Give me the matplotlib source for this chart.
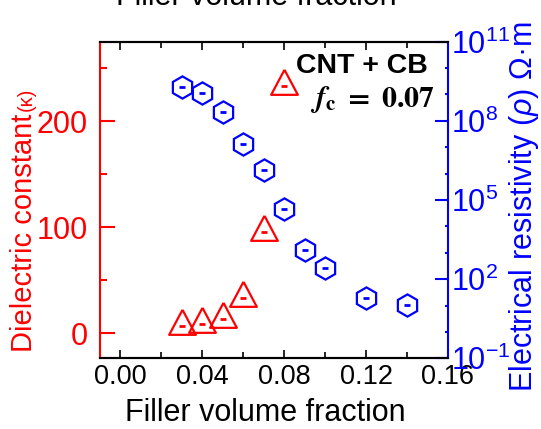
import numpy as np
import matplotlib
matplotlib.use("Agg")
import matplotlib.pyplot as plt
from matplotlib.ticker import MultipleLocator, FixedLocator, FuncFormatter, NullFormatter

plt.rcParams['font.family'] = ['Liberation Sans', 'DejaVu Sans']
plt.rcParams['mathtext.fontset'] = 'custom'
plt.rcParams['mathtext.rm'] = 'Liberation Sans'
plt.rcParams['mathtext.it'] = 'Liberation Sans:italic'
plt.rcParams['mathtext.bf'] = 'Liberation Sans:bold'

# dielectric constant (CNT + CB)
fk = [0.03, 0.04, 0.05, 0.06, 0.07, 0.08]
kappa = [6.9, 8.8, 13.2, 33.0, 95.3, 233.6]

# electrical resistivity
fr = [0.03, 0.04, 0.05, 0.06, 0.07, 0.08, 0.09, 0.10, 0.12, 0.14]
rho = [1.9e9, 1.1e9, 2.2e8, 1.3e7, 1.4e6, 4.7e4, 1.26e3, 2.6e2, 18.6, 10.2]

RED = (1, 0, 0)
BLUE = (0, 0, 1)

W, H = 541, 429
fig = plt.figure(figsize=(W / 100, H / 100), dpi=100)
x0, x1, y0, y1 = 100, 448, 41.7, 358.3
ax = fig.add_axes([x0 / W, 1 - y1 / H, (x1 - x0) / W, (y1 - y0) / H])
ax2 = ax.twinx()

# triangle centred on its centroid
tri = [(0, 2), (-1.6, -1), (1.6, -1), (0, 2)]
ax.plot(fk, kappa, ls='none', marker=tri, ms=24, mfc='none', mec=RED, mew=1.6, clip_on=False)
ax.plot(fk, kappa, ls='none', marker='_', ms=4, mec=RED, mew=2)

ax2.plot(fr, rho, ls='none', marker='h', ms=16, mfc='none', mec=BLUE, mew=1.6)
ax2.plot(fr, rho, ls='none', marker='_', ms=4, mec=BLUE, mew=2)

ax.set_xlim(-0.01, 0.16)
ax.set_ylim(-23.6, 275)
ax2.set_yscale('log')
ax2.set_ylim(1e-1, 1e11)

ax.xaxis.set_major_locator(MultipleLocator(0.04))
ax.xaxis.set_minor_locator(MultipleLocator(0.02))
ax.xaxis.set_major_formatter(plt.FormatStrFormatter('%.2f'))
ax.yaxis.set_major_locator(MultipleLocator(100))
ax.yaxis.set_minor_locator(MultipleLocator(50))
ax2.yaxis.set_major_locator(FixedLocator([1e-1, 1e2, 1e5, 1e8, 1e11]))
ax2.yaxis.set_minor_locator(FixedLocator([10.0 ** e for e in range(-1, 12) if (e + 1) % 3]))
ax2.yaxis.set_major_formatter(FuncFormatter(lambda v, p: r'$10^{%d}$' % round(np.log10(v))))
ax2.yaxis.set_minor_formatter(NullFormatter())

ax.tick_params(axis='x', which='major', direction='in', top=True, length=6, width=1.2,
               labelsize=19.5, pad=4, colors='black')
ax.tick_params(axis='x', which='minor', direction='in', top=True, length=4, width=1.2)
ax.tick_params(axis='y', which='major', direction='in', length=11, width=1.5,
               labelsize=22, pad=9, colors=RED)
ax.tick_params(axis='y', which='minor', direction='in', length=5, width=1.5, colors=RED)
ax2.tick_params(axis='y', which='major', direction='in', length=9.5, width=1.5,
                labelsize=22, pad=2.5, colors=BLUE)
ax2.tick_params(axis='y', which='minor', direction='in', length=2, width=1.5, colors=BLUE)

for a in (ax, ax2):
    for s in a.spines.values():
        s.set_linewidth(1.5)
ax.spines['left'].set_color(RED)
ax.spines['right'].set_visible(False)
ax2.spines['left'].set_visible(False)
ax2.spines['right'].set_color(BLUE)

# labels
fig.text(256 / W, 1 - 5 / H, 'Filler volume fraction', fontsize=22, ha='center', va='baseline')
fig.text(265 / W, 1 - 420.7 / H, 'Filler volume fraction', fontsize=22, ha='center', va='baseline')
fig.text(32 / W, 1 - 352 / H, 'Dielectric constant', fontsize=21, color=RED,
         rotation=90, rotation_mode='anchor', ha='left', va='baseline')
fig.text(32 / W, 1 - 111 / H, '(κ)', fontsize=14.5, color=RED,
         rotation=90, rotation_mode='anchor', ha='left', va='baseline')
fig.text(532 / W, 1 - 392 / H, r'Electrical resistivity ($\it{\rho}$) Ω·m', fontsize=22, color=BLUE,
         rotation=90, rotation_mode='anchor', ha='left', va='baseline')

ax.text(0.9425, 0.901, 'CNT + CB', transform=ax.transAxes, fontsize=20.5, fontweight='bold',
        ha='right', va='baseline')
ax.text(0.9626, 0.793, r'$\mathbfit{f}_{\mathbf{c}}\mathbf{\ =\ 0.07}$', transform=ax.transAxes,
        fontsize=21.5, math_fontfamily='stix', ha='right', va='baseline')

fig.savefig('out.png', dpi=100)
